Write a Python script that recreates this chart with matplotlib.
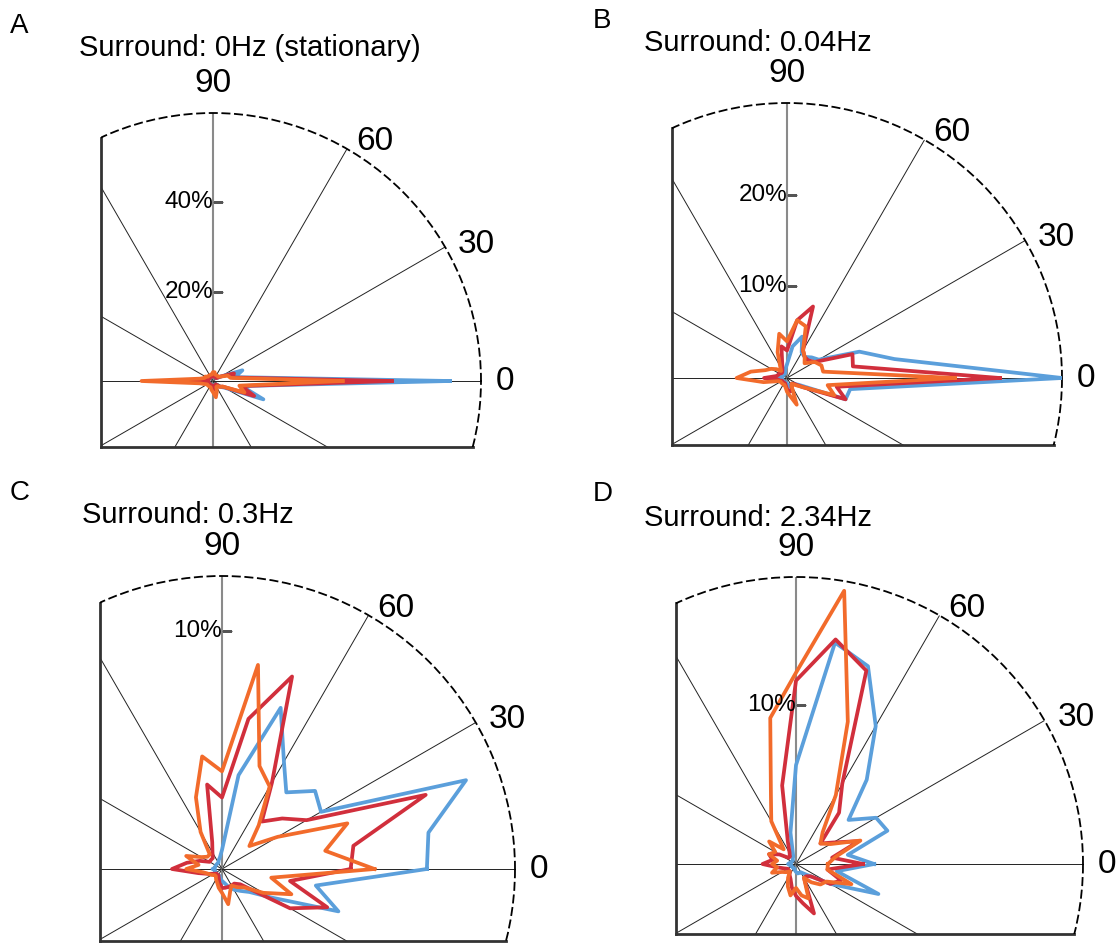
import numpy as np
import matplotlib
matplotlib.use("Agg")
import matplotlib.pyplot as plt
from matplotlib.patches import Rectangle

plt.rcParams['font.family'] = ['Liberation Sans', 'DejaVu Sans']

# direction bins (deg), one value per bin, percent of responses
angles = np.arange(0, 360, 10)

a_blue = [53, 5, 7, 2, 1, 1, 1, 1, 1, 1.5, 1, 1, 1, 1, 1, 1, 1, 2,
          8, 2, 1, 1, 1, 1, 1, 1, 1, 1, 1, 1.5, 1, 1, 2, 3, 12, 6.5]
a_red = [40, 4.5, 5, 2, 1, 1, 1, 1, 1, 1.5, 1, 1, 1, 1, 1, 1, 1, 2,
         10, 2, 1, 1, 1, 1, 1, 1, 1, 1.5, 2, 1.5, 1, 1, 2, 2.5, 9.8, 6.5]
a_orange = [29, 4, 3.5, 2, 1.5, 1.5, 1.5, 1.5, 2, 2, 1.5, 1.5, 1.5, 1.5, 1.5, 2, 2, 3,
            16, 3, 2, 1.5, 1.5, 1.5, 1.5, 1.5, 2, 2.5, 3.7, 2.5, 1.5, 1.5, 2, 2.5, 7.5, 6]

b_blue = [30, 11.9, 8.4, 4, 3.5, 3, 3.2, 4.8, 3.5, 1.5, 1, 0.6, 0.5, 0.5, 0.5, 0.5, 0.5, 0.8,
          1.2, 0.8, 0.5, 0.5, 0.5, 0.5, 0.5, 0.5, 0.5, 0.6, 1, 1, 0.8, 0.8, 1, 1.5, 6.8, 7]
b_red = [23.2, 7.3, 7.6, 3.5, 3, 3, 3.5, 8.3, 6.4, 3, 3.5, 1.5, 1, 0.8, 0.8, 1, 1, 1.2,
         2.5, 1, 0.8, 0.6, 0.6, 0.6, 0.6, 0.6, 0.8, 1.2, 1.5, 1.5, 1, 0.8, 1, 2, 6.8, 5.5]
b_orange = [18.3, 4, 4, 3.5, 2.5, 3, 3.5, 6, 6.4, 4, 4.9, 3, 1.5, 1, 1.5, 2, 2.5, 4,
            5.5, 2.6, 1, 0.8, 0.8, 0.8, 0.8, 0.8, 1, 1.5, 2, 3.1, 1, 0.8, 1.2, 2, 5.5, 4.5]

c_blue = [8.6, 8.8, 10.9, 4.8, 5.1, 4.2, 5.2, 7.2, 4.0, 0.8, 0.5, 0.4, 0.3, 0.3, 0.3, 0.3, 0.3, 0.3,
          0.4, 0.3, 0.3, 0.3, 0.3, 0.3, 0.3, 0.3, 0.4, 0.5, 0.6, 0.8, 1.0, 1.2, 1.5, 2.4, 5.2, 4.0]
c_red = [5.4, 5.6, 9.1, 4.1, 3.3, 2.6, 4.2, 8.6, 6.4, 3.0, 3.6, 1.2, 0.8, 0.6, 0.6, 0.6, 1.0, 1.5,
         2.1, 1.0, 0.6, 0.4, 0.3, 0.3, 0.3, 0.4, 0.6, 0.8, 0.8, 0.8, 0.8, 0.8, 1.0, 3.3, 4.7, 2.9]
c_orange = [6.4, 4.4, 5.6, 2.7, 1.5, 2.4, 4.0, 4.6, 8.7, 4.1, 4.8, 3.2, 1.8, 0.8, 0.8, 1.0, 1.6, 1.0,
            1.5, 0.8, 0.6, 0.5, 0.4, 0.4, 0.5, 0.6, 0.8, 1.0, 1.5, 1.0, 0.8, 1.0, 1.2, 2.0, 3.1, 2.1]

d_blue = [4.9, 3.3, 6.1, 5.8, 4.3, 6.9, 10.0, 13.2, 14.1, 6.2, 2.0, 0.5, 0.4, 0.3, 0.3, 0.3, 0.3, 0.4,
          0.5, 0.4, 0.3, 0.3, 0.3, 0.3, 0.3, 0.3, 0.4, 0.5, 0.6, 0.6, 0.6, 0.8, 1.2, 2.5, 5.5, 2.6]
d_red = [4.2, 2.3, 4.2, 2.7, 2.0, 4.2, 5.8, 12.9, 14.3, 11.5, 5.0, 1.5, 0.8, 0.6, 0.6, 1.2, 1.8, 1.5,
         2.1, 1.2, 0.8, 0.6, 0.6, 0.6, 0.8, 1.0, 1.5, 2.0, 2.5, 3.3, 1.0, 1.0, 1.2, 2.5, 3.0, 2.0]
d_orange = [2.0, 2.5, 4.3, 2.5, 2.0, 2.6, 5.0, 9.5, 17.4, 12.0, 9.3, 4.6, 3.1, 1.2, 2.2, 1.5, 1.8, 1.2,
            1.5, 1.2, 1.6, 1.0, 0.8, 0.6, 1.0, 1.5, 2.0, 1.5, 2.0, 2.3, 1.0, 1.5, 2.0, 2.2, 3.7, 2.0]

letters = ['A', 'B', 'C', 'D']
titles = ['Surround: 0Hz (stationary)', 'Surround: 0.04Hz',
          'Surround: 0.3Hz', 'Surround: 2.34Hz']
rmaxes = [60, 30, 12.3, 18]
rticks = [[20, 40], [10, 20], [10], [10]]

colors = ['#5b9fdb', '#d12f3c', '#f26b2b']

W, H = 1118, 946
# panel origin (px) and radius (px)
panels = [(213, 381, 268), (787, 378, 275), (222, 869, 293), (796, 864, 287)]
title_pos = [(250, 48), (758, 43), (188, 515), (758, 518)]
letter_pos = [(10, 26), (593, 21), (10, 493), (593, 494)]

FL = 0.418   # left edge of the box, in units of radius
FB = 0.245   # bottom edge of the box


def closed(vals):
    th = np.deg2rad(np.append(angles, angles[0]))
    return th, np.append(vals, vals[0])


def draw_panel(fig, k, series):
    cx, cy, R = panels[k]
    rmax = rmaxes[k]
    ax = fig.add_axes([(cx - R) / W, (H - cy - R) / H, 2 * R / W, 2 * R / H],
                      projection='polar')
    ax.set_ylim(0, rmax)
    ax.set_xticks([])
    ax.set_yticks([])
    ax.grid(False)
    ax.patch.set_visible(False)

    x0 = 0.5 - 0.5 * FL
    y0 = 0.5 - 0.5 * FB
    box = Rectangle((x0, y0), 1.02 - x0, 1.02 - y0, transform=ax.transAxes)

    sp = ax.spines['polar']
    sp.set_linestyle((0, (4, 3)))
    sp.set_linewidth(1.3)
    sp.set_edgecolor('black')
    sp.set_clip_path(box)

    # radial grid
    for ang in range(0, 360, 30):
        th = np.deg2rad(ang)
        if ang in (90, 270):
            ax.plot([th, th], [0, rmax], color='#8a8a8a', lw=1.5, clip_path=box, zorder=1)
        else:
            ax.plot([th, th], [0, rmax], color='#222222', lw=0.7, clip_path=box, zorder=1)

    # left / bottom edges
    ytop = 0.5 + 0.5 * np.sqrt(1 - FL ** 2)
    xright = 0.5 + 0.5 * np.sqrt(1 - FB ** 2)
    ax.plot([x0, x0], [y0, ytop], color='#333333', lw=2, transform=ax.transAxes, clip_on=False)
    ax.plot([x0, xright], [y0, y0], color='#333333', lw=2, transform=ax.transAxes, clip_on=False)

    for vals, c in zip(series, colors):
        th, r = closed(vals)
        ax.plot(th, r, color=c, lw=2.7, clip_path=box, zorder=3)

    for rt in rticks[k]:
        ax.plot(np.pi / 2, rt, marker=1, color='#555555', ms=7, mew=0.8, zorder=2)
        ax.text(np.pi / 2, rt, '%d%%' % rt, ha='right', va='center', fontsize=17.5, zorder=4)

    # angle labels
    offs = {0: (15, 0, 'left'), 30: (13, 3, 'left'), 60: (9, 7, 'left'), 90: (0, 30, 'center')}
    for ang, (dx, dy, ha) in offs.items():
        ax.annotate(str(ang), xy=(np.deg2rad(ang), rmax), xytext=(dx, dy),
                    textcoords='offset pixels', ha=ha, va='center', fontsize=24,
                    annotation_clip=False)

    tx, ty = title_pos[k]
    fig.text(tx / W, 1 - ty / H, titles[k], ha='center', va='center', fontsize=21)
    lx, ly = letter_pos[k]
    fig.text(lx / W, 1 - ly / H, letters[k], ha='left', va='center', fontsize=20)


fig = plt.figure(figsize=(W / 100, H / 100), dpi=100)
all_series = [(a_blue, a_red, a_orange), (b_blue, b_red, b_orange),
              (c_blue, c_red, c_orange), (d_blue, d_red, d_orange)]
for k in range(4):
    draw_panel(fig, k, all_series[k])

fig.savefig('out.png', dpi=100)
